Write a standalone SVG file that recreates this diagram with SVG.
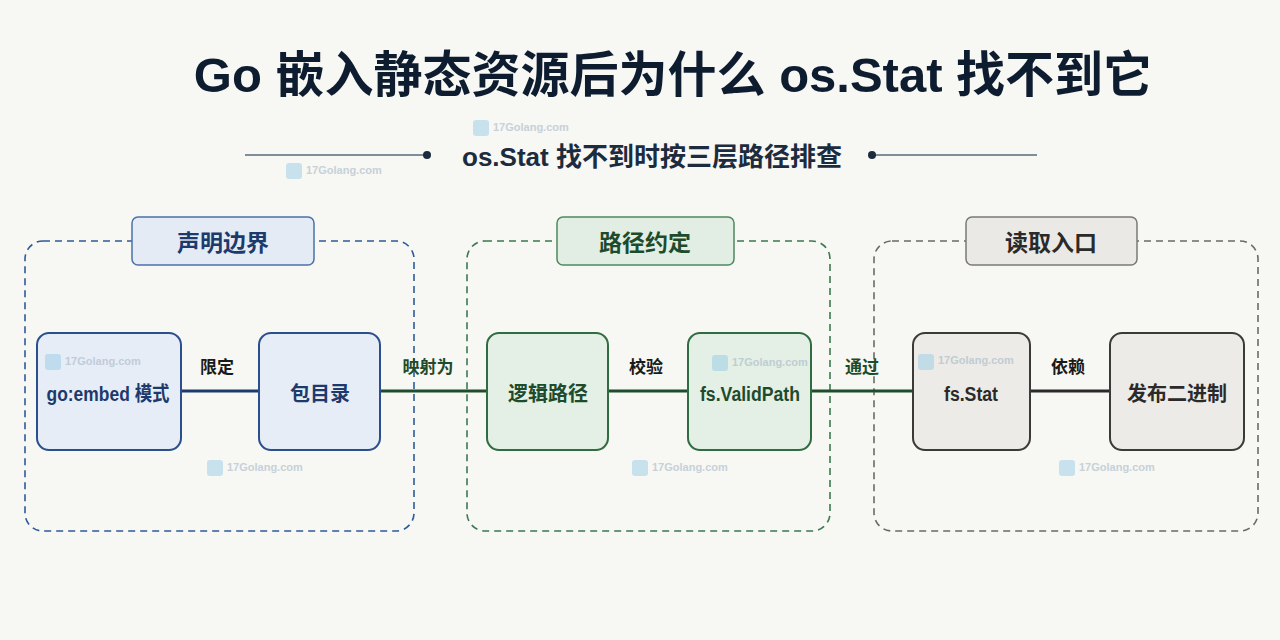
<svg xmlns="http://www.w3.org/2000/svg" width="1280" height="640" viewBox="0 0 1280 640">
<style>
text{font-family:"Liberation Sans","Noto Sans CJK SC",sans-serif;}
.title{font-size:49px;font-weight:700;fill:#0e1c30;}
.sub{font-size:26px;font-weight:700;fill:#1c2b3d;}
.hdr{font-size:23px;font-weight:700;text-anchor:middle;}
.node{font-size:20px;font-weight:700;text-anchor:middle;}
.lbl{font-size:17px;font-weight:700;text-anchor:middle;fill:#1a1a1a;}
.wm{font-size:11px;font-weight:700;fill:#9fb3c4;opacity:0.55;}
.wmi{fill:#8fc8e6;opacity:0.45;}
.b .grp{fill:none;stroke:#2f5b9a;stroke-width:1.6;stroke-dasharray:7 5;}
.g .grp{fill:none;stroke:#3b7a4e;stroke-width:1.6;stroke-dasharray:7 5;}
.k .grp{fill:none;stroke:#6a6a66;stroke-width:1.6;stroke-dasharray:7 5;}
.b .box{fill:#e7edf6;stroke:#2b4f8c;stroke-width:2;}
.g .box{fill:#e4efe5;stroke:#2f6c41;stroke-width:2;}
.k .box{fill:#ecebe7;stroke:#3a3a38;stroke-width:2;}
.b .hb{fill:#e4ebf5;stroke:#4a72aa;stroke-width:1.5;}
.g .hb{fill:#e2eee3;stroke:#4e8a5f;stroke-width:1.5;}
.k .hb{fill:#eae9e5;stroke:#7a7a76;stroke-width:1.5;}
.b text{fill:#1d3a6c;}
.g text{fill:#1e4b2c;}
.k text{fill:#2a2a2a;}
</style>
<rect width="1280" height="640" fill="#f7f7f3"/>

<text class="title" x="673" y="92" text-anchor="middle">Go 嵌入静态资源后为什么 os.Stat 找不到它</text>

<g id="subtitle">
<line x1="245" y1="155" x2="425" y2="155" stroke="#5a6a7a" stroke-width="1.5"/>
<circle cx="427" cy="155" r="4" fill="#1c2b3d"/>
<line x1="872" y1="155" x2="1037" y2="155" stroke="#5a6a7a" stroke-width="1.5"/>
<circle cx="872" cy="155" r="4" fill="#1c2b3d"/>
<text class="sub" x="652" y="166" text-anchor="middle">os.Stat 找不到时按三层路径排查</text>
</g>

<g id="group-declare" class="b">
<rect class="grp" x="25" y="241" width="389" height="290" rx="18"/>
<rect class="hb" x="132" y="217" width="182" height="48" rx="6"/>
<text class="hdr" x="223" y="251">声明边界</text>
</g>
<g id="group-path" class="g">
<rect class="grp" x="467" y="241" width="363" height="290" rx="18"/>
<rect class="hb" x="557" y="217" width="177" height="48" rx="6"/>
<text class="hdr" x="645" y="251">路径约定</text>
</g>
<g id="group-read" class="k">
<rect class="grp" x="874" y="241" width="384" height="290" rx="18"/>
<rect class="hb" x="966" y="217" width="171" height="48" rx="6"/>
<text class="hdr" x="1051" y="251">读取入口</text>
</g>

<g id="connectors">
<line x1="181" y1="391" x2="259" y2="391" stroke="#1d3a6c" stroke-width="3"/>
<line x1="380" y1="391" x2="487" y2="391" stroke="#1f4d2c" stroke-width="3"/>
<line x1="608" y1="391" x2="688" y2="391" stroke="#1f4d2c" stroke-width="3"/>
<line x1="811" y1="391" x2="913" y2="391" stroke="#1f4d2c" stroke-width="3"/>
<line x1="1030" y1="391" x2="1110" y2="391" stroke="#2a2a2a" stroke-width="3"/>
<text class="lbl" x="217" y="373">限定</text>
<text class="lbl" x="428" y="373" style="fill:#1e4b2c">映射为</text>
<text class="lbl" x="646" y="373">校验</text>
<text class="lbl" x="862" y="373" style="fill:#1e4b2c">通过</text>
<text class="lbl" x="1068" y="373">依赖</text>
</g>

<g id="node-goembed" class="b">
<rect class="box" x="37" y="333" width="144" height="117" rx="12"/>
<text class="node" x="108" y="401" textLength="123" lengthAdjust="spacingAndGlyphs">go:embed 模式</text>
</g>
<g id="node-pkgdir" class="b">
<rect class="box" x="259" y="333" width="121" height="117" rx="12"/>
<text class="node" x="320" y="401">包目录</text>
</g>
<g id="node-logical" class="g">
<rect class="box" x="487" y="333" width="121" height="117" rx="12"/>
<text class="node" x="548" y="401">逻辑路径</text>
</g>
<g id="node-validpath" class="g">
<rect class="box" x="688" y="333" width="123" height="117" rx="12"/>
<text class="node" x="750" y="401" textLength="100" lengthAdjust="spacingAndGlyphs">fs.ValidPath</text>
</g>
<g id="node-fsstat" class="k">
<rect class="box" x="913" y="333" width="117" height="117" rx="12"/>
<text class="node" x="971" y="401" textLength="54" lengthAdjust="spacingAndGlyphs">fs.Stat</text>
</g>
<g id="node-binary" class="k">
<rect class="box" x="1110" y="333" width="134" height="117" rx="12"/>
<text class="node" x="1177" y="401">发布二进制</text>
</g>

<g id="watermarks">
<rect class="wmi" x="473" y="120" width="16" height="16" rx="3"/><text class="wm" x="493" y="131">17Golang.com</text>
<rect class="wmi" x="286" y="163" width="16" height="16" rx="3"/><text class="wm" x="306" y="174">17Golang.com</text>
<rect class="wmi" x="45" y="354" width="16" height="16" rx="3"/><text class="wm" x="65" y="365">17Golang.com</text>
<rect class="wmi" x="207" y="460" width="16" height="16" rx="3"/><text class="wm" x="227" y="471">17Golang.com</text>
<rect class="wmi" x="712" y="355" width="16" height="16" rx="3"/><text class="wm" x="732" y="366">17Golang.com</text>
<rect class="wmi" x="632" y="460" width="16" height="16" rx="3"/><text class="wm" x="652" y="471">17Golang.com</text>
<rect class="wmi" x="918" y="354" width="16" height="16" rx="3"/><text class="wm" x="938" y="364">17Golang.com</text>
<rect class="wmi" x="1059" y="460" width="16" height="16" rx="3"/><text class="wm" x="1079" y="471">17Golang.com</text>
</g>
</svg>
